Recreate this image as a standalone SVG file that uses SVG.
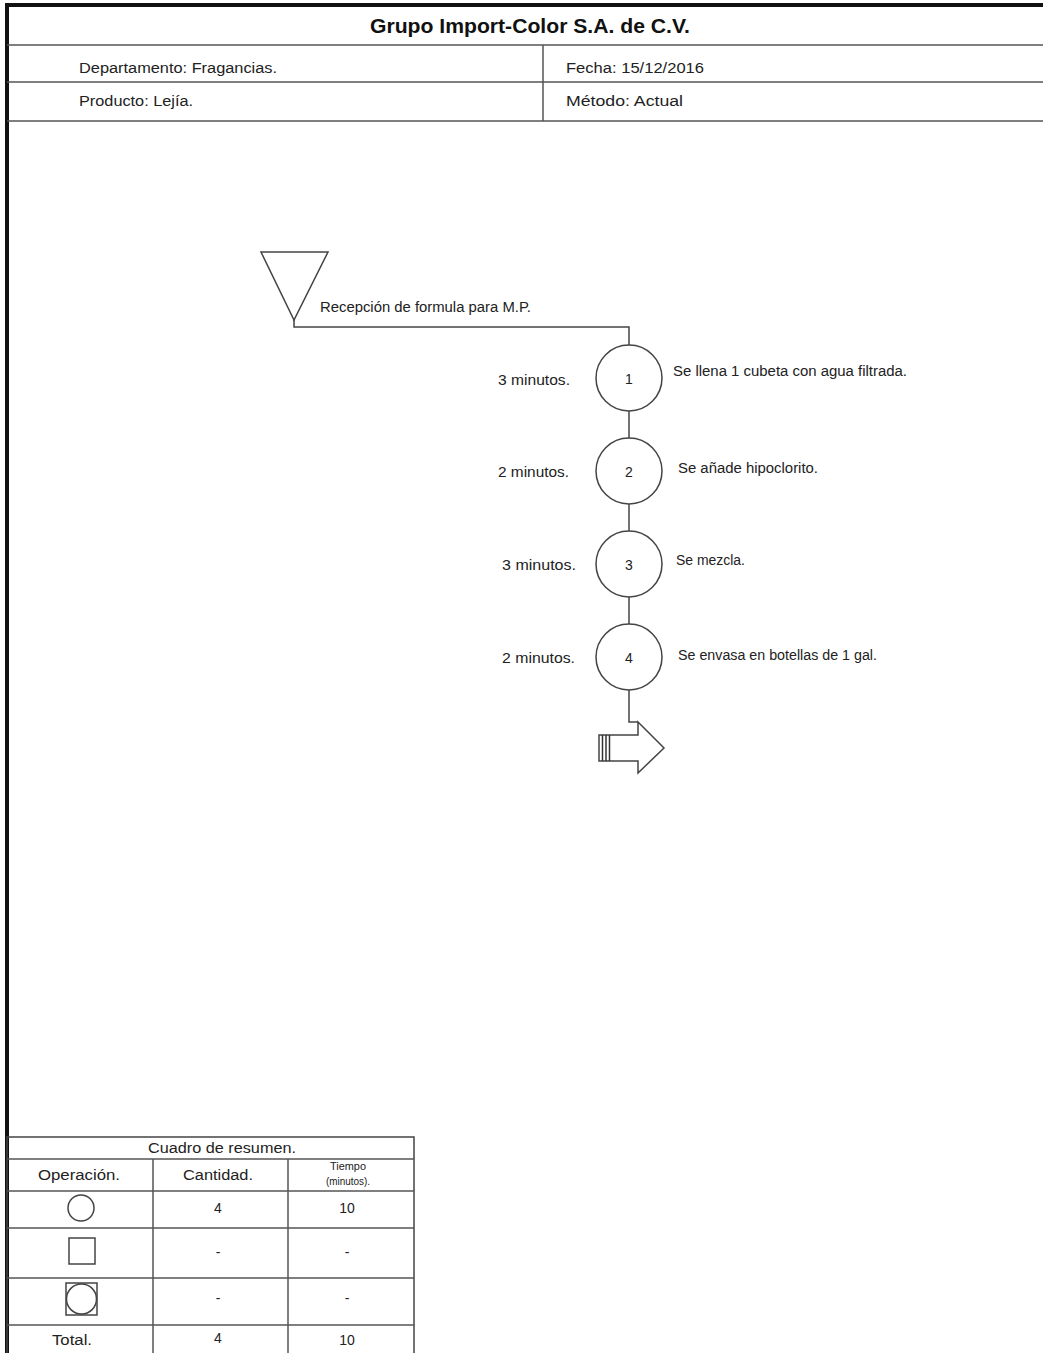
<svg xmlns="http://www.w3.org/2000/svg" width="1043" height="1353" viewBox="0 0 1043 1353">
<style>
.t{font-family:"Liberation Sans",Arial,sans-serif;font-size:14px;fill:#222}
.h{font-family:"Liberation Sans",Arial,sans-serif;font-size:20px;font-weight:bold;fill:#111}
.n{font-family:"Liberation Sans",Arial,sans-serif;font-size:14px;fill:#222;text-anchor:middle}
.s{font-family:"Liberation Sans",Arial,sans-serif;font-size:10px;fill:#222;text-anchor:middle}
.ln{stroke:#444;stroke-width:1.5;fill:none}
.sh{stroke:#444;stroke-width:1.5;fill:#fff}
.g{stroke:#555;stroke-width:1.5;fill:none}
</style>
<rect x="0" y="0" width="1043" height="1353" fill="#fff"/>
<g id="header">
<line x1="7" y1="5" x2="1043" y2="5" stroke="#111" stroke-width="4"/>
<line x1="7" y1="3" x2="7" y2="1353" stroke="#111" stroke-width="4"/>
<line x1="7" y1="45" x2="1043" y2="45" class="g"/>
<line x1="7" y1="82" x2="1043" y2="82" class="g"/>
<line x1="7" y1="121" x2="1043" y2="121" class="g"/>
<line x1="543" y1="45" x2="543" y2="121" class="g"/>
<text x="530" y="33" class="h" text-anchor="middle" textLength="320" lengthAdjust="spacingAndGlyphs">Grupo Import-Color S.A. de C.V.</text>
<text x="79" y="73" class="t" textLength="198" lengthAdjust="spacingAndGlyphs">Departamento: Fragancias.</text>
<text x="79" y="106" class="t" textLength="114" lengthAdjust="spacingAndGlyphs">Producto: Lejía.</text>
<text x="566" y="73" class="t" textLength="138" lengthAdjust="spacingAndGlyphs">Fecha: 15/12/2016</text>
<text x="566" y="106" class="t" textLength="117" lengthAdjust="spacingAndGlyphs">Método: Actual</text>
</g>
<g id="connectors">
<path class="ln" d="M294,320 V327 H629 V345"/>
<line class="ln" x1="629" y1="411" x2="629" y2="438"/>
<line class="ln" x1="629" y1="504" x2="629" y2="531"/>
<line class="ln" x1="629" y1="597" x2="629" y2="624"/>
<path class="ln" d="M629,690 V722 H638"/>
</g>
<g id="start">
<polygon class="sh" points="261,252 328,252 294,320"/>
<text x="320" y="312" class="t" textLength="211" lengthAdjust="spacingAndGlyphs">Recepción de formula para M.P.</text>
</g>
<g id="op1">
<circle class="sh" cx="629" cy="378" r="33"/>
<text x="629" y="384" class="n">1</text>
<text x="498" y="385" class="t" textLength="72" lengthAdjust="spacingAndGlyphs">3 minutos.</text>
<text x="673" y="376" class="t" textLength="234" lengthAdjust="spacingAndGlyphs">Se llena 1 cubeta con agua filtrada.</text>
</g>
<g id="op2">
<circle class="sh" cx="629" cy="471" r="33"/>
<text x="629" y="477" class="n">2</text>
<text x="498" y="477" class="t" textLength="71" lengthAdjust="spacingAndGlyphs">2 minutos.</text>
<text x="678" y="473" class="t" textLength="140" lengthAdjust="spacingAndGlyphs">Se añade hipoclorito.</text>
</g>
<g id="op3">
<circle class="sh" cx="629" cy="564" r="33"/>
<text x="629" y="570" class="n">3</text>
<text x="502" y="570" class="t" textLength="74" lengthAdjust="spacingAndGlyphs">3 minutos.</text>
<text x="676" y="565" class="t" textLength="69" lengthAdjust="spacingAndGlyphs">Se mezcla.</text>
</g>
<g id="op4">
<circle class="sh" cx="629" cy="657" r="33"/>
<text x="629" y="663" class="n">4</text>
<text x="502" y="663" class="t" textLength="73" lengthAdjust="spacingAndGlyphs">2 minutos.</text>
<text x="678" y="660" class="t" textLength="199" lengthAdjust="spacingAndGlyphs">Se envasa en botellas de 1 gal.</text>
</g>
<g id="end">
<polygon class="sh" points="638,722 664,748 638,773 638,761 599,761 599,735 638,735"/>
<line stroke="#333" stroke-width="1.5" x1="602.5" y1="735" x2="602.5" y2="761"/>
<line stroke="#333" stroke-width="1.5" x1="606" y1="735" x2="606" y2="761"/>
<line stroke="#333" stroke-width="1.5" x1="609.5" y1="735" x2="609.5" y2="761"/>
</g>
<g id="summary">
<rect x="7" y="1137" width="407" height="220" fill="none" stroke="#444" stroke-width="1.5"/>
<line class="g" x1="7" y1="1159" x2="414" y2="1159"/>
<line class="g" x1="7" y1="1191" x2="414" y2="1191"/>
<line class="g" x1="7" y1="1228" x2="414" y2="1228"/>
<line class="g" x1="7" y1="1278" x2="414" y2="1278"/>
<line class="g" x1="7" y1="1325" x2="414" y2="1325"/>
<line class="g" x1="153" y1="1159" x2="153" y2="1353"/>
<line class="g" x1="288" y1="1159" x2="288" y2="1353"/>
<text x="222" y="1153" class="n" textLength="148" lengthAdjust="spacingAndGlyphs">Cuadro de resumen.</text>
<text x="79" y="1180" class="n" textLength="82" lengthAdjust="spacingAndGlyphs">Operación.</text>
<text x="218" y="1180" class="n" textLength="70" lengthAdjust="spacingAndGlyphs">Cantidad.</text>
<text x="348" y="1170" class="s" textLength="36" lengthAdjust="spacingAndGlyphs">Tiempo</text>
<text x="348" y="1185" class="s" textLength="44" lengthAdjust="spacingAndGlyphs">(minutos).</text>
<circle class="sh" cx="81" cy="1208" r="13"/>
<rect class="sh" x="69" y="1238" width="26" height="26"/>
<rect class="sh" x="66" y="1283" width="31" height="32"/>
<circle class="sh" cx="81.5" cy="1299" r="15"/>
<text x="218" y="1213" class="n">4</text>
<text x="347" y="1213" class="n">10</text>
<text x="218" y="1257" class="n">-</text>
<text x="347" y="1257" class="n">-</text>
<text x="218" y="1303" class="n">-</text>
<text x="347" y="1303" class="n">-</text>
<text x="72" y="1345" class="n" textLength="40" lengthAdjust="spacingAndGlyphs">Total.</text>
<text x="218" y="1343" class="n">4</text>
<text x="347" y="1345" class="n">10</text>
</g>
</svg>
